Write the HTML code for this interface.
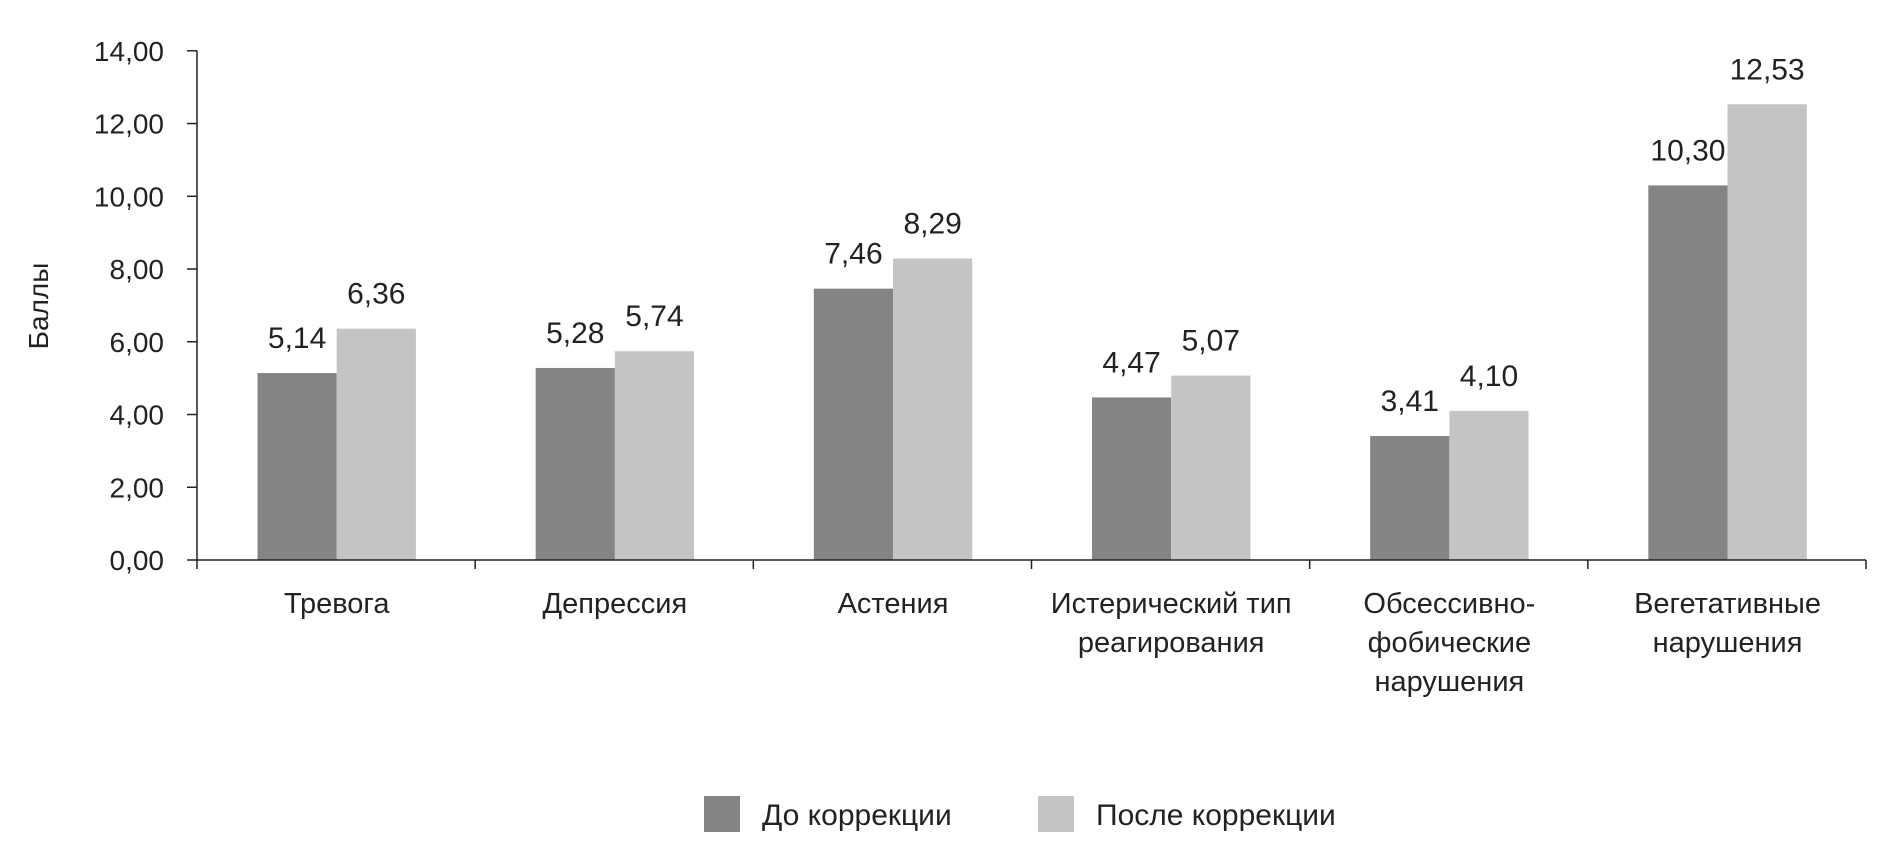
<!DOCTYPE html>
<html><head><meta charset="utf-8"><style>
html,body{margin:0;padding:0;background:#fff;}
svg{display:block;font-family:"Liberation Sans Narrow","Liberation Sans",sans-serif;}
</style></head><body>
<svg id="chart" width="1896" height="862" viewBox="0 0 1896 862" xmlns="http://www.w3.org/2000/svg"></svg>
<script>
const categories = [["Тревога"],["Депрессия"],["Астения"],["Истерический тип","реагирования"],["Обсессивно-","фобические","нарушения"],["Вегетативные","нарушения"]];
const seriesBefore = [5.14,5.28,7.46,4.47,3.41,10.30];
const seriesAfter = [6.36,5.74,8.29,5.07,4.10,12.53];
const yTicks = [0,2,4,6,8,10,12,14];
const seriesNames = ["До коррекции","После коррекции"];

const NS="http://www.w3.org/2000/svg";
const svg=document.getElementById('chart');
const X0=197, X1=1866, Y0=560, YT=50.8, YMAX=14;
const gw=(X1-X0)/categories.length, bw=79.2, boff=60.5;
function y(v){return Y0-(v/YMAX)*(Y0-YT);}
function xg(i){return X0+i*gw;}
function el(t,a,txt){const e=document.createElementNS(NS,t);for(const k in a)e.setAttribute(k,a[k]);if(txt!==undefined)e.textContent=txt;svg.appendChild(e);return e;}
const fmt=v=>v.toFixed(2).replace('.',',');

yTicks.forEach(v=>{
  const t=el('line',{x1:187,x2:X0,y1:y(v),y2:y(v),stroke:'#222','stroke-width':1.5});
  
  
  const l=el('text',{x:164,y:y(v)+10,'text-anchor':'end','font-size':28,fill:'#222'},fmt(v));
  
  
});
const yt=el('text',{x:0,y:0,transform:'translate(48,306) rotate(-90)','text-anchor':'middle','font-size':28,fill:'#222'},'Баллы');



categories.forEach((c,i)=>{
  const gx=xg(i);
  const b1=el('rect',{x:gx+boff,y:y(seriesBefore[i]),width:bw,height:Y0-y(seriesBefore[i]),fill:'#858383'});
  
  
  const b2=el('rect',{x:gx+boff+bw,y:y(seriesAfter[i]),width:bw,height:Y0-y(seriesAfter[i]),fill:'#c4c4c4'});
  
  
  const v1=el('text',{x:gx+boff+bw/2,y:y(seriesBefore[i])-25,'text-anchor':'middle','font-size':30,fill:'#222'},fmt(seriesBefore[i]));
  
  
  const v2=el('text',{x:gx+boff+bw*1.5,y:y(seriesAfter[i])-25,'text-anchor':'middle','font-size':30,fill:'#222'},fmt(seriesAfter[i]));
  
  
  const tk=el('line',{x1:gx+gw,x2:gx+gw,y1:Y0,y2:Y0+9,stroke:'#222','stroke-width':1.5});
  
  
  c.forEach((ln,j)=>{
    const t=el('text',{x:gx+boff+bw,y:613+j*39,'text-anchor':'middle','font-size':29,fill:'#222'},ln);
    
    
  });
});
const t0=el('line',{x1:X0,x2:X0,y1:Y0,y2:Y0+9,stroke:'#222','stroke-width':1.5});


const ya=el('line',{x1:X0,x2:X0,y1:YT,y2:Y0,stroke:'#222','stroke-width':1.5});


const xa=el('line',{x1:X0,x2:X1,y1:Y0,y2:Y0,stroke:'#222','stroke-width':1.5});



const lg=[[704,'#858383',762],[1038,'#c4c4c4',1096]];
lg.forEach((p,i)=>{
  const s=el('rect',{x:p[0],y:796,width:36,height:36,fill:p[1]});
  
  
  const t=el('text',{x:p[2],y:825,'font-size':30,fill:'#222'},seriesNames[i]);
  
  
});
</script>
</body></html>
